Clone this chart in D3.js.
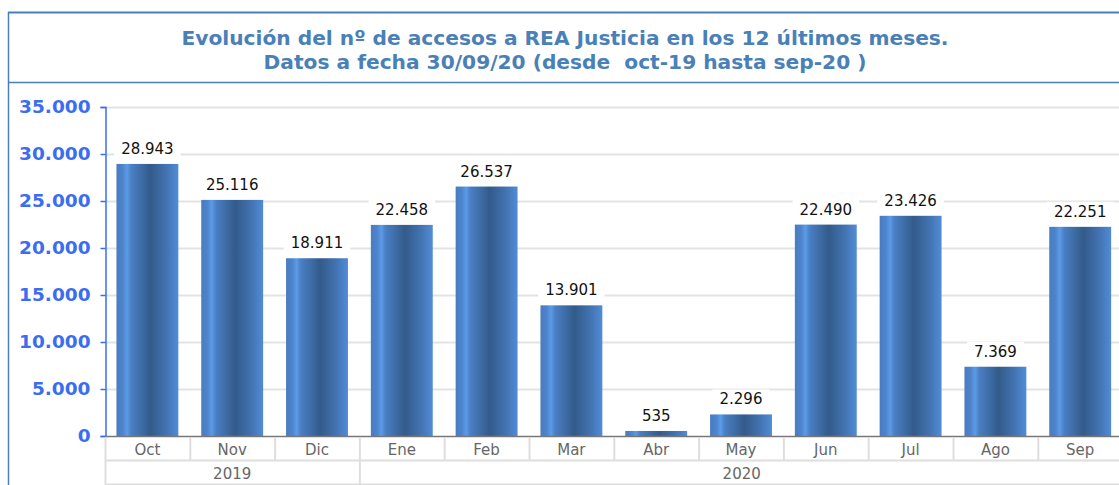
<!DOCTYPE html>
<html><head><meta charset="utf-8">
<script src="https://cdn.jsdelivr.net/npm/d3@7"></script>
<style>body{margin:0;background:#fff;}svg{display:block;font-family:"DejaVu Sans",sans-serif;}</style>
</head><body><svg id="c" width="1119" height="485"></svg>
<script>
const months = ["Oct","Nov","Dic","Ene","Feb","Mar","Abr","May","Jun","Jul","Ago","Sep"];
const years = [{label:"2019", from:0, to:2},{label:"2020", from:3, to:11}];
const values = [28943,25116,18911,22458,26537,13901,535,2296,22490,23426,7369,22251];
const yTicks = [0,5000,10000,15000,20000,25000,30000,35000];
const titleLines = ["Evolución del nº de accesos a REA Justicia en los 12 últimos meses.","Datos a fecha 30/09/20 (desde  oct-19 hasta sep-20 )"];

const svg = d3.select("#c");
const W = 1119, H = 485;
const fmt = v => d3.format(",")(v).replace(/,/g,".");

// gradient
const defs = svg.append("defs");
const g = defs.append("linearGradient").attr("id","bg").attr("x1","0").attr("x2","1").attr("y1","0").attr("y2","0");
[[0,"#4a7cbf"],[0.1,"#4d84cc"],[0.17,"#5b9be8"],[0.24,"#4a7fc4"],[0.55,"#335b8a"],[0.8,"#4272b0"],[1,"#518cd6"]].forEach(s=>g.append("stop").attr("offset",s[0]).attr("stop-color",s[1]));

// frame
svg.append("line").attr("x1",8.5).attr("x2",8.5).attr("y1",12).attr("y2",H).attr("stroke","#4a80b8").attr("stroke-width",1.5);
svg.append("line").attr("x1",8).attr("x2",W).attr("y1",12.5).attr("y2",12.5).attr("stroke","#4a80b8").attr("stroke-width",2);
svg.append("line").attr("x1",8).attr("x2",W).attr("y1",82.5).attr("y2",82.5).attr("stroke","#4a80b8").attr("stroke-width",1.5);

const title = svg.append("text").attr("text-anchor","middle").attr("fill","#4a80b8").attr("font-weight","bold").attr("font-size",20.2).style("white-space","pre");
titleLines.forEach((t,i)=>title.append("tspan").attr("x",565).attr("y",45+i*24).text(t));

const x0 = 105, bandW = 84.8;
const x = d3.scaleBand().domain(months).range([x0, x0+bandW*12]).paddingInner(0.27).paddingOuter(0.135);
const y = d3.scaleLinear().domain([0,35000]).range([436,107]);

// grid
svg.append("g").selectAll("line").data(yTicks.slice(1)).join("line")
  .attr("x1",x0).attr("x2",W).attr("y1",d=>Math.round(y(d))+0.5).attr("y2",d=>Math.round(y(d))+0.5)
  .attr("stroke","#e3e3e3").attr("stroke-width",2);

// y axis
const ya = svg.append("g").attr("transform",`translate(${x0+0.5},0)`)
  .call(d3.axisLeft(y).tickValues(yTicks).tickFormat(fmt).tickSize(5).tickPadding(10));
ya.select(".domain").attr("stroke","#3a6df0").attr("stroke-width",1.5);
ya.selectAll(".tick line").attr("stroke","#3a6df0").attr("stroke-width",1.5);
ya.selectAll(".tick text").attr("fill","#3a6df0").attr("font-size",18.5).attr("font-weight","bold").attr("font-family","DejaVu Sans");

// bars
svg.append("g").selectAll("rect").data(values).join("rect")
  .attr("x",(d,i)=>x(months[i])).attr("width",x.bandwidth())
  .attr("y",d=>y(d)).attr("height",d=>y(0)-y(d)).attr("fill","url(#bg)");

// labels
const lg = svg.append("g");
values.forEach((v,i)=>{
  const cx = x(months[i]) + x.bandwidth()/2;
  const ty = y(v) - 10;
  const t = lg.append("text").attr("x",cx).attr("y",ty).attr("text-anchor","middle").attr("font-size",15).attr("fill","#111").text(fmt(v));
  const bb = t.node().getBBox();
  lg.insert("rect","text").attr("x",bb.x-7).attr("y",bb.y-1).attr("width",bb.width+14).attr("height",bb.height+2).attr("fill","#fff");
});
lg.selectAll("text").raise();

// x axis baseline
svg.append("line").attr("x1",x0).attr("x2",W).attr("y1",436.5).attr("y2",436.5).attr("stroke","#777").attr("stroke-width",1.5);

// category table
const cg = svg.append("g");
const gridC = "#dedede";
cg.append("line").attr("x1",x0).attr("x2",W).attr("y1",460.5).attr("y2",460.5).attr("stroke",gridC).attr("stroke-width",2);
cg.append("line").attr("x1",x0).attr("x2",W).attr("y1",484.5).attr("y2",484.5).attr("stroke",gridC).attr("stroke-width",2);
d3.range(13).forEach(i=>{
  cg.append("line").attr("x1",x0+i*bandW+0.5).attr("x2",x0+i*bandW+0.5).attr("y1",437).attr("y2",460).attr("stroke",gridC).attr("stroke-width",2);
});
cg.selectAll("text.m").data(months).join("text").attr("class","m")
  .attr("x",d=>x(d)+x.bandwidth()/2).attr("y",455).attr("text-anchor","middle")
  .attr("font-size",15).attr("fill","#666").text(d=>d);
years.forEach(yr=>{
  const a = x0 + yr.from*bandW, b = x0 + (yr.to+1)*bandW;
  cg.append("line").attr("x1",a+0.5).attr("x2",a+0.5).attr("y1",460).attr("y2",H).attr("stroke",gridC).attr("stroke-width",2);
  const cx = yr.label==="2020" ? (a + W + 5)/2 : (a+b)/2;
  cg.append("text").attr("x",cx).attr("y",479).attr("text-anchor","middle").attr("font-size",15).attr("fill","#666").text(yr.label);
});
</script></body></html>
